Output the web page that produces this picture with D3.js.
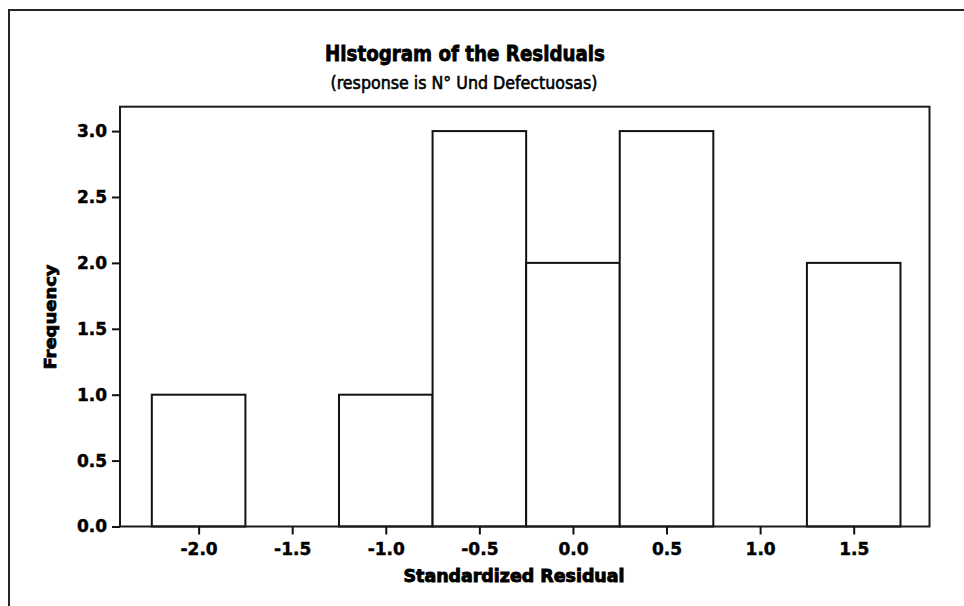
<!DOCTYPE html>
<html>
<head>
<meta charset="utf-8">
<script src="https://cdn.jsdelivr.net/npm/d3@7"></script>
<style>
  html, body { margin: 0; padding: 0; background: #fff; }
  svg { display: block; }
  .axis text { font-family: "DejaVu Sans", Verdana, sans-serif; font-weight: bold; font-size: 17px; fill: #000; stroke: #000; stroke-width: 0.45; }
  .axis path { display: none; }
  .axis line { stroke: #111; stroke-width: 2; }
</style>
</head>
<body>
<script>
// Histogram bins: midpoints of the standardized residual classes and their counts
const binMidpoints = [-2.0, -1.5, -1.0, -0.5, 0.0, 0.5, 1.0, 1.5];
const frequencies  = [1, 0, 1, 3, 2, 3, 0, 2];
const binWidth = 0.5;

const xTickValues = [-2.0, -1.5, -1.0, -0.5, 0.0, 0.5, 1.0, 1.5];
const yTickValues = [0.0, 0.5, 1.0, 1.5, 2.0, 2.5, 3.0];

const titleText = "Histogram of the Residuals";
const subtitleText = "(response is N\u00B0 Und Defectuosas)";
const xLabelText = "Standardized Residual";
const yLabelText = "Frequency";

const W = 964, H = 606;
const plot = { left: 120, right: 929.5, top: 106.7, bottom: 526.5 };

const svg = d3.select("body").append("svg")
  .attr("width", W).attr("height", H);

svg.append("rect").attr("width", W).attr("height", H).attr("fill", "#fff");

// outer figure border (only the top and left edges fall inside the view)
svg.append("path")
  .attr("d", `M9,${H} L9,10 L${W},10`)
  .attr("fill", "none").attr("stroke", "#2a2228").attr("stroke-width", 2);

const x = d3.scaleLinear().domain([-2.42, 1.905]).range([plot.left, plot.right]);
const y = d3.scaleLinear().domain([0, 3.185]).range([plot.bottom, plot.top]);

// bars
svg.append("g").selectAll("rect")
  .data(binMidpoints.map((m, i) => ({ m, f: frequencies[i] })).filter(d => d.f > 0))
  .join("rect")
  .attr("x", d => x(d.m - binWidth / 2))
  .attr("y", d => y(d.f))
  .attr("width", d => x(d.m + binWidth / 2) - x(d.m - binWidth / 2))
  .attr("height", d => y(0) - y(d.f))
  .attr("fill", "#fff")
  .attr("stroke", "#111")
  .attr("stroke-width", 2);

// plot frame
svg.append("rect")
  .attr("x", plot.left).attr("y", plot.top)
  .attr("width", plot.right - plot.left).attr("height", plot.bottom - plot.top)
  .attr("fill", "none").attr("stroke", "#1d1a1c").attr("stroke-width", 2);

// axes
svg.append("g").attr("class", "axis")
  .attr("transform", `translate(0,${plot.bottom})`)
  .call(d3.axisBottom(x).tickValues(xTickValues).tickFormat(d3.format(".1f"))
    .tickSize(8).tickPadding(8));

svg.append("g").attr("class", "axis")
  .attr("transform", `translate(${plot.left},0)`)
  .call(d3.axisLeft(y).tickValues(yTickValues).tickFormat(d3.format(".1f"))
    .tickSize(8).tickPadding(5));

// plain hyphen for negative tick labels
svg.selectAll(".axis text").text(function () { return d3.select(this).text().replace("\u2212", "-"); });

// titles
svg.append("text")
  .attr("x", 465).attr("y", 61)
  .attr("text-anchor", "middle")
  .attr("textLength", 280).attr("lengthAdjust", "spacingAndGlyphs")
  .style("font-family", "'DejaVu Sans', Verdana, sans-serif")
  .style("font-weight", "bold").style("font-size", "21px")
  .style("stroke", "#000").style("stroke-width", 0.8)
  .text(titleText);

svg.append("text")
  .attr("x", 464).attr("y", 88.5)
  .attr("text-anchor", "middle")
  .attr("textLength", 267).attr("lengthAdjust", "spacingAndGlyphs")
  .style("font-family", "'DejaVu Sans', Tahoma, sans-serif")
  .style("font-size", "17px")
  .style("stroke", "#000").style("stroke-width", 0.6)
  .text(subtitleText);

// axis titles
svg.append("text")
  .attr("x", 514).attr("y", 582)
  .attr("text-anchor", "middle")
  .attr("textLength", 221).attr("lengthAdjust", "spacingAndGlyphs")
  .style("font-family", "'DejaVu Sans', Verdana, sans-serif")
  .style("font-weight", "bold").style("font-size", "17px")
  .style("stroke", "#000").style("stroke-width", 0.9)
  .text(xLabelText);

svg.append("text")
  .attr("transform", "translate(56,317) rotate(-90)")
  .attr("text-anchor", "middle")
  .attr("textLength", 105).attr("lengthAdjust", "spacingAndGlyphs")
  .style("font-family", "'DejaVu Sans', Verdana, sans-serif")
  .style("font-weight", "bold").style("font-size", "16px")
  .style("stroke", "#000").style("stroke-width", 0.8)
  .text(yLabelText);
</script>
</body>
</html>
